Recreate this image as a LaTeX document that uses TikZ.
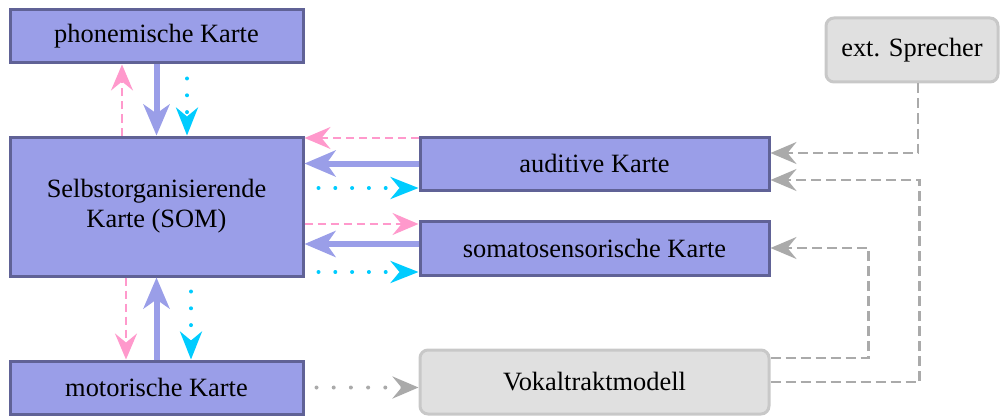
\documentclass[tikz,border=0pt]{standalone}
\usepackage{fontspec}
\setmainfont{Liberation Serif}
\usetikzlibrary{arrows.meta}
\definecolor{boxfill}{RGB}{154,158,232}
\definecolor{boxdraw}{RGB}{96,98,150}
\definecolor{gfill}{RGB}{224,224,224}
\definecolor{gdraw}{RGB}{200,200,200}
\definecolor{pinkc}{RGB}{255,153,204}
\definecolor{cyanc}{RGB}{0,204,255}
\definecolor{bluec}{RGB}{154,158,232}
\definecolor{greyc}{RGB}{170,170,170}
\tikzset{
  mapbox/.style={draw=boxdraw, fill=boxfill, line width=1.5pt, inner sep=0pt, font=\fontsize{13.2}{15}\selectfont, align=center},
  extbox/.style={draw=gdraw, fill=gfill, line width=1.5pt, rounded corners=4pt, inner sep=0pt, font=\fontsize{13.2}{15}\selectfont},
  pinkarr/.style={draw=pinkc, line width=1.1pt, dash pattern=on 4pt off 2.5pt, -{Stealth[length=13pt,width=11pt,inset=4.5pt]}},
  bluearr/.style={draw=bluec, line width=3pt, -{Stealth[length=15.5pt,width=13pt,inset=4.5pt]}},
  cyanarr/.style={draw=cyanc, line width=2pt, line cap=round, dash pattern=on 0pt off 8.4pt, dash phase=1.4pt, -{Stealth[length=14pt,width=11pt,inset=4.5pt,line cap=butt]}},
  greyarr/.style={draw=greyc, line width=1.2pt, dash pattern=on 5pt off 2.5pt, -{Stealth[length=13pt,width=11pt,inset=4.5pt]}},
  greydot/.style={draw=greyc, line width=2pt, line cap=round, dash pattern=on 0pt off 8.6pt, dash phase=2.6pt, -{Stealth[length=13pt,width=11pt,inset=4.5pt,line cap=butt]}},
}
\begin{document}
\begin{tikzpicture}[x=0.5pt,y=-0.5pt]
\useasboundingbox (0,0) rectangle (1000,417);
\node[mapbox, minimum width=146.5pt, minimum height=26.5pt] (phon) at (156.5,36.5) {phonemische Karte};
\node[mapbox, minimum width=146.5pt, minimum height=69.5pt] (somap) at (156.5,206.5) {Selbstorganisierende\\Karte (SOM)};
\node[mapbox, minimum width=174.5pt, minimum height=26.5pt] (aud) at (594.5,163.5) {auditive Karte};
\node[mapbox, minimum width=174.5pt, minimum height=27pt] (soma) at (594.5,248) {somatosensorische Karte};
\node[mapbox, minimum width=146.5pt, minimum height=26.5pt] (motor) at (156.5,387.5) {motorische Karte};
\node[extbox, minimum width=174.5pt, minimum height=32pt] (vokal) at (594.5,382) {Vokaltraktmodell};
\node[extbox, minimum width=86pt, minimum height=32pt] (ext) at (912,50) {ext. Sprecher};

% phonemic <-> SOM
\draw[pinkarr] ([xshift=-17.25pt]somap.north) -- ([xshift=-17.25pt]phon.south);
\draw[bluearr] (phon.south) -- (somap.north);
\draw[cyanarr] ([xshift=15.25pt]phon.south) -- ([xshift=15.25pt]somap.north);
% SOM <-> motor
\draw[pinkarr] ([xshift=-15.25pt]somap.south) -- ([xshift=-15.25pt]motor.north);
\draw[bluearr] (motor.north) -- (somap.south);
\draw[cyanarr] ([xshift=17.25pt]somap.south) -- ([xshift=17.25pt]motor.north);
% SOM <-> auditive
\coordinate (a1) at ([yshift=12.75pt]aud.west);
\coordinate (a2) at (aud.west);
\coordinate (a3) at ([yshift=-12.25pt]aud.west);
\draw[pinkarr] (a1) -- (a1 -| somap.east);
\draw[bluearr] (a2) -- (a2 -| somap.east);
\draw[cyanarr] (a3 -| somap.east) -- (a3);
% SOM <-> somatosensory
\coordinate (s1) at ([yshift=12pt]soma.west);
\coordinate (s2) at ([yshift=2pt]soma.west);
\coordinate (s3) at ([yshift=-12pt]soma.west);
\draw[pinkarr] (s1 -| somap.east) -- (s1);
\draw[bluearr] (s2) -- (s2 -| somap.east);
\draw[cyanarr] (s3 -| somap.east) -- (s3);
% motor -> vokal
\draw[greydot] (motor.east) -- (motor.east -| vokal.west);
% grey feedback
\draw[greyarr] ([xshift=3pt]ext.south) |- ([yshift=5.25pt]aud.east);
\draw[greyarr] (vokal.east) -- ++(149,0) |- ([yshift=-8.25pt]aud.east);
\draw[greyarr] ([yshift=12pt]vokal.east) -- ++(98,0) |- (soma.east);
\end{tikzpicture}
\end{document}
